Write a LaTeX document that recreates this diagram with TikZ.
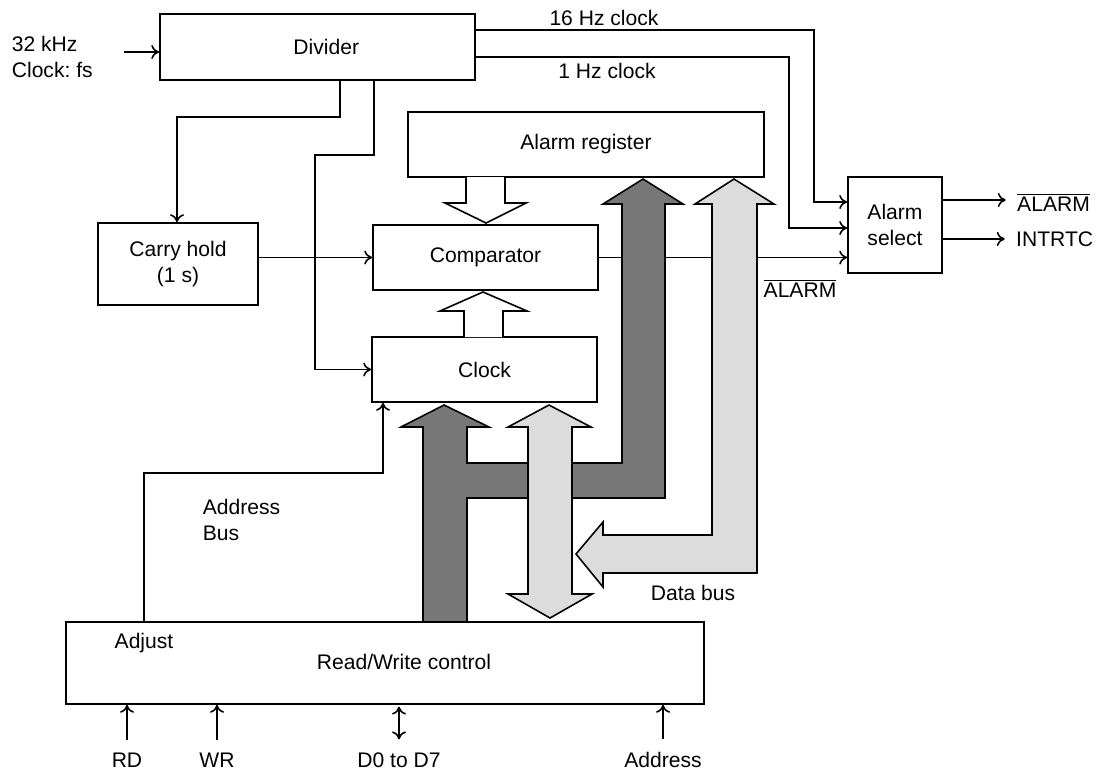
\documentclass[tikz,border=0pt]{standalone}
\usepackage{fontspec}
\setmainfont{Liberation Sans}
\usetikzlibrary{arrows.meta, positioning}
\definecolor{addrbus}{HTML}{777777}
\definecolor{databus}{HTML}{DCDCDC}
\frenchspacing

\begin{document}
\begin{tikzpicture}[x=0.02cm, y=-0.02cm,
  font=\fontsize{12}{15}\selectfont,
  box/.style={rectangle, draw, line width=1pt, align=center, inner sep=0pt},
  txt/.style={align=left, inner sep=2pt},
  arrow/.style={-{To[length=4.5pt, width=8pt]}, line width=0.9pt},
  darrow/.style={{To[length=4.5pt, width=8pt]}-{To[length=4.5pt, width=8pt]}, line width=0.9pt},
  bus/.style={draw, line width=0.9pt},
]
  \useasboundingbox (0,0) rectangle (1101,771);

  \node[box, minimum width=6.3cm, minimum height=1.32cm] (div) at (317.5,47) {\hspace*{0.35cm}Divider};
  \node[box, minimum width=3.2cm, minimum height=1.64cm] (carry) at (178,264) {Carry hold\\(1 s)};
  \node[box, minimum width=7.12cm, minimum height=1.3cm] (areg) at (586,144.5) {Alarm register};
  \node[box, minimum width=4.5cm, minimum height=1.3cm] (cmp) at (485.5,257.5) {Comparator};
  \node[box, minimum width=4.5cm, minimum height=1.3cm] (clk) at (484.5,369.5) {Clock};
  \node[box, minimum width=1.88cm, minimum height=1.92cm] (sel) at (895,225) {Alarm\\select};
  \node[box, minimum width=12.76cm, minimum height=1.64cm] (rw) at (385,663) {};

  \node[txt, anchor=west] (fs) at (8,57) {32 kHz\\Clock: fs};
  \node (hz16) at (604,18) {16 Hz clock};
  \node (hz1) at (607,71) {1 Hz clock};
  \node (alarmn) at (800,288) {$\overline{\mbox{ALARM}}$};
  \node[anchor=west] (alarmo) at (1011,202) {$\overline{\mbox{ALARM}}$};
  \node[anchor=west] (intrtc) at (1010,239) {INTRTC};
  \node[txt, anchor=west] (abus) at (199,520) {Address\\Bus};
  \node (dbus) at (693,593) {Data bus};
  \node (adj) at (144,643) {Adjust};
  \node (rwtxt) at (404,662) {Read/Write control};
  \node (rd) at (127,760) {RD};
  \node (wr) at (217,760) {WR};
  \node (dat) at (399,760) {D0 to D7};
  \node (addr) at (663,760) {Address};

  \coordinate (fsin) at (124,52);
  \draw[arrow] (fsin) -- (fsin -| div.west);
  \draw[arrow] (div.east |- 0,30) -- (814,30) -- (814,202) -- (sel.west |- 0,202);
  \draw[arrow] (div.east |- 0,57) -- (789,57) -- (789,228) -- (sel.west |- 0,228);
  \draw[arrow] (div.south -| 340,0) |- (177,117) -- (carry.north -| 177,0);
  \draw[arrow] (div.south -| 374,0) |- (315,155) |- (clk.west);
  \draw[arrow] (carry.east |- cmp.west) -- (cmp.west);
  \draw[arrow] (cmp.east) -- (cmp.east -| sel.west);
  \draw[arrow] (rw.north -| 144,0) |- (383,473) -- (clk.south -| 383,0);
  \draw[arrow, shorten >=3pt] (sel.east |- 0,200) -- (alarmo.west |- 0,200);
  \draw[arrow, shorten >=3pt] (sel.east |- intrtc.west) -- (intrtc.west);
  \draw[arrow, shorten <=4pt] (rd.north) -- (rd.north |- rw.south);
  \draw[arrow, shorten <=4pt] (wr.north) -- (wr.north |- rw.south);
  \draw[darrow, shorten <=4pt, shorten >=1pt] (dat.north) -- (dat.north |- rw.south);
  \draw[arrow, shorten <=4pt] (addr.north) -- (addr.north |- rw.south);

  \draw[bus, fill=white] (466,177) -- (466,203) -- (445,203) -- (486,223) -- (526,203) -- (505,203) -- (505,177);
  \draw[bus, fill=white] (464,337) -- (464,311) -- (440,311) -- (483,292) -- (527,311) -- (503,311) -- (503,337);

  \draw[bus, fill=addrbus] (423,622) -- (423,427) -- (401,427) -- (444,405) -- (489,427) -- (467,427)
    -- (467,463) -- (622,463) -- (622,204) -- (603,204) -- (643,179) -- (683,204) -- (665,204)
    -- (665,498) -- (467,498) -- (467,622) -- cycle;
  \draw[bus, fill=databus] (528,427) -- (508,427) -- (549,405) -- (591,427) -- (572,427)
    -- (572,594) -- (592,594) -- (550,618) -- (508,594) -- (528,594) -- cycle;
  \draw[bus, fill=databus] (712,204) -- (695,204) -- (734,179) -- (774,204) -- (757,204)
    -- (757,573) -- (603,573) -- (603,587) -- (576,554) -- (603,522) -- (603,535) -- (712,535) -- cycle;
\end{tikzpicture}
\end{document}
